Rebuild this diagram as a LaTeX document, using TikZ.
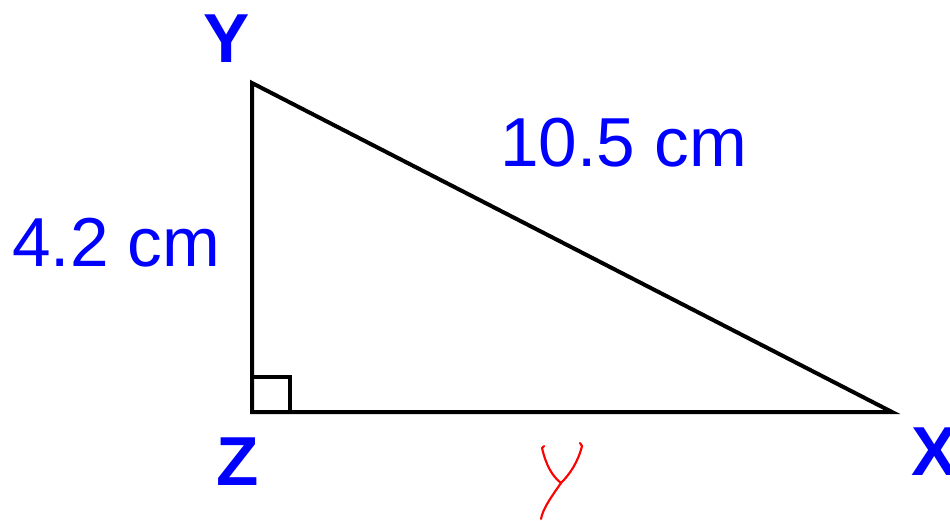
\documentclass[tikz,border=0pt]{standalone}
\usepackage{fontspec}
\setmainfont{Liberation Sans}
\definecolor{lblue}{RGB}{0,0,255}
\definecolor{hred}{RGB}{255,0,0}
\begin{document}
\begin{tikzpicture}[x=0.75pt,y=-0.75pt,
  edge/.style={line width=3pt,line join=miter},
  vlabel/.style={inner sep=0pt,text=lblue,font=\fontsize{52}{52}\selectfont\bfseries,anchor=base},
  mlabel/.style={inner sep=0pt,text=lblue,font=\fontsize{52}{52}\selectfont,anchor=base west},
  hand/.style={hred,line width=1.6pt,line cap=round,line join=round}]
\useasboundingbox (0,0) rectangle (950,521);
\coordinate (Y) at (252,83);
\coordinate (Z) at (252,412);
\coordinate (X) at (892,412);
\draw[edge] (Y) -- (Z) -- (X) -- cycle;
\coordinate (ra1) at (252,377);
\coordinate (ra2) at (290,377);
\coordinate (ra3) at (290,412);
\draw[line width=2.8pt] (ra1) -- (ra2) -- (ra3);
\node[vlabel] (lY) at (226.5,62) {Y};
\node[vlabel] (lZ) at (238,485) {Z};
\node[vlabel] (lX) at (935,475) {X};
\node[mlabel] (hyp) at (500,166) {10.5 cm};
\node[mlabel] (leg) at (12,266) {4.2 cm};
\coordinate (hc) at (561,483);
\draw[hand] (544,446) -- (542,448) .. controls (546,465) and (552,476) .. (hc);
\draw[hand] (580,443) -- (582,446) .. controls (578,462) and (570,474) .. (hc)
  .. controls (552,496) and (543,508) .. (541,519);
\end{tikzpicture}
\end{document}
